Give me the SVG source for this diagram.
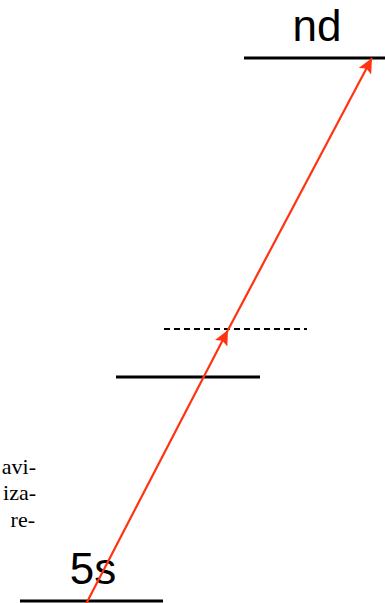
<svg xmlns="http://www.w3.org/2000/svg" width="385" height="603" viewBox="0 0 385 603">
<style>
.lvl{stroke:#000;stroke-width:3;fill:none}
.dash{stroke:#000;stroke-width:2;stroke-dasharray:6 4;fill:none}
.arr{stroke:#ff3311;stroke-width:2.2;fill:none}
.lbl{font-family:"Liberation Sans",Arial,sans-serif;font-size:44px;fill:#000}
.side{font-family:"Liberation Serif","Times New Roman",serif;font-size:22px;fill:#000}
</style>
<defs>
<marker id="ah" markerUnits="userSpaceOnUse" markerWidth="16" markerHeight="14" refX="15" refY="7" orient="auto">
<polygon points="0,0 15,7 0,14 3,7" fill="#ff3311"/>
</marker>
</defs>
<rect width="385" height="603" fill="#fff"/>
<g id="side-text">
<text class="side" x="36" y="474" text-anchor="end">avi-</text>
<text class="side" x="36" y="500" text-anchor="end">iza-</text>
<text class="side" x="35" y="527" text-anchor="end">re-</text>
</g>
<g id="level-5s">
<line class="lvl" x1="20" y1="601" x2="163" y2="601"/>
<text class="lbl" x="93" y="584" text-anchor="middle">5s</text>
</g>
<g id="level-mid">
<line class="lvl" x1="116" y1="377" x2="260" y2="377"/>
</g>
<g id="level-virtual">
<line class="dash" x1="164" y1="329" x2="307" y2="329"/>
</g>
<g id="level-nd">
<line class="lvl" x1="244" y1="58" x2="385" y2="58"/>
<text class="lbl" x="317" y="41" text-anchor="middle">nd</text>
</g>
<g id="connectors">
<line class="arr" x1="86" y1="604" x2="228" y2="330" marker-end="url(#ah)"/>
<line class="arr" x1="228" y1="330" x2="372" y2="58" marker-end="url(#ah)"/>
</g>
</svg>
